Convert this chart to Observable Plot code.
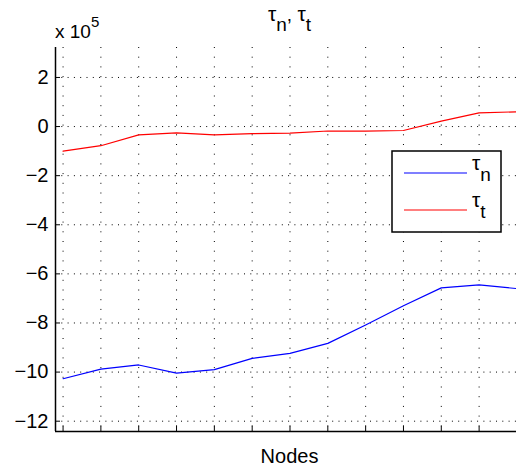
<!DOCTYPE html>
<html><head><meta charset="utf-8">
<script src="https://cdn.jsdelivr.net/npm/d3@7"></script>
<script src="https://cdn.jsdelivr.net/npm/@observablehq/plot@0.6"></script>
<style>html,body{margin:0;padding:0;overflow:hidden;background:#fff} svg{max-width:none !important;}</style>
</head><body><div id="chart"></div>
<script>
// Data (values in units of 10^5)
const nodes = [1, 2, 3, 4, 5, 6, 7, 8, 9, 10, 11, 12, 13];
const tauN = [-10.27, -9.88, -9.71, -10.04, -9.90, -9.44, -9.24, -8.83, -8.08, -7.30, -6.57, -6.45, -6.60];
const tauT = [-1.00, -0.78, -0.34, -0.26, -0.34, -0.29, -0.27, -0.18, -0.19, -0.16, 0.22, 0.56, 0.60];
const yTicks = [-12, -10, -8, -6, -4, -2, 0, 2];
const xTicks = nodes;
const seriesNames = ["n", "t"];
const seriesColors = ["#0000ff", "#ff0000"];

const font = "'Liberation Sans', Arial, Helvetica, sans-serif";
const W = 524, H = 472, mL = 55, mR = 0, mT = 47, mB = 41;
const xDom = [0.8, 13.2], yDom = [-12.42, 3.22];
const pw = W - mL - mR, ph = H - mT - mB;

const rowsN = nodes.map((x, i) => ({x, y: tauN[i]}));
const rowsT = nodes.map((x, i) => ({x, y: tauT[i]}));

const chart = Plot.plot({
  width: W, height: H,
  marginLeft: mL, marginRight: mR, marginTop: mT, marginBottom: mB,
  style: {fontFamily: font, background: "#fff", overflow: "visible", maxWidth: "none"},
  x: {domain: xDom, axis: null},
  y: {domain: yDom, axis: null},
  marks: [
    Plot.ruleY(yTicks, {y: d => d, stroke: "#000", strokeWidth: 1, strokeDasharray: "1,5.3"}),
    Plot.ruleX(xTicks, {x: d => d, stroke: "#000", strokeWidth: 1, strokeDasharray: "1,8.7"}),
    Plot.line(rowsN, {x: "x", y: "y", stroke: seriesColors[0], strokeWidth: 1.2}),
    Plot.line(rowsT, {x: "x", y: "y", stroke: seriesColors[1], strokeWidth: 1.2}),
    Plot.tickY(yTicks, {y: d => d, stroke: "#000", strokeWidth: 1, insetRight: pw - 5}),
    Plot.tickX(xTicks, {x: d => d, stroke: "#000", strokeWidth: 1, insetTop: ph - 5}),
    Plot.ruleX([xDom[0]], {stroke: "#000", strokeWidth: 1.5}),
    Plot.ruleY([yDom[0]], {stroke: "#000", strokeWidth: 1.5}),
    Plot.axisY(yTicks, {tickSize: 0, tickPadding: 7, fontSize: 20, fill: "#000", label: null,
      tickFormat: d => d < 0 ? "\u2212" + Math.abs(d) : String(d)})
  ]
});
chart.style.maxWidth = "none";
chart.setAttribute("width", W);
chart.setAttribute("height", H);
document.getElementById("chart").appendChild(chart);

const svg = d3.select(chart);
const cx = mL + pw / 2;

// Title
const title = svg.append("text").attr("x", cx).attr("y", 21).attr("text-anchor", "middle")
  .attr("font-family", font).attr("fill", "#000");
title.append("tspan").attr("font-size", 21).text("\u03c4");
title.append("tspan").attr("font-size", 19).attr("dy", 10).text("n");
title.append("tspan").attr("font-size", 19).attr("dy", -10).text(", ");
title.append("tspan").attr("font-size", 21).text("\u03c4");
title.append("tspan").attr("font-size", 19).attr("dy", 10).text("t");

// Exponent
const ex = svg.append("text").attr("x", 55).attr("y", 38).attr("text-anchor", "start")
  .attr("font-family", font).attr("fill", "#000");
ex.append("tspan").attr("font-size", 19).text("x 10");
ex.append("tspan").attr("font-size", 15).attr("dy", -11).text("5");

// X label
svg.append("text").attr("x", cx).attr("y", 463).attr("text-anchor", "middle")
  .attr("font-family", font).attr("font-size", 20).attr("fill", "#000").text("Nodes");

// Legend
const lg = svg.append("g");
lg.append("rect").attr("x", 392).attr("y", 151).attr("width", 109).attr("height", 81)
  .attr("fill", "#fff").attr("stroke", "#000").attr("stroke-width", 1.5);
const ly = [173, 210];
seriesNames.forEach((s, i) => {
  lg.append("line").attr("x1", 404).attr("x2", 467).attr("y1", ly[i]).attr("y2", ly[i])
    .attr("stroke", seriesColors[i]).attr("stroke-width", 1.2);
  const t = lg.append("text").attr("x", 472).attr("y", ly[i] - 3).attr("text-anchor", "start")
    .attr("font-family", font).attr("fill", "#000");
  t.append("tspan").attr("font-size", 21).text("\u03c4");
  t.append("tspan").attr("font-size", 19).attr("dy", 11).text(s);
});
</script>
</body></html>
